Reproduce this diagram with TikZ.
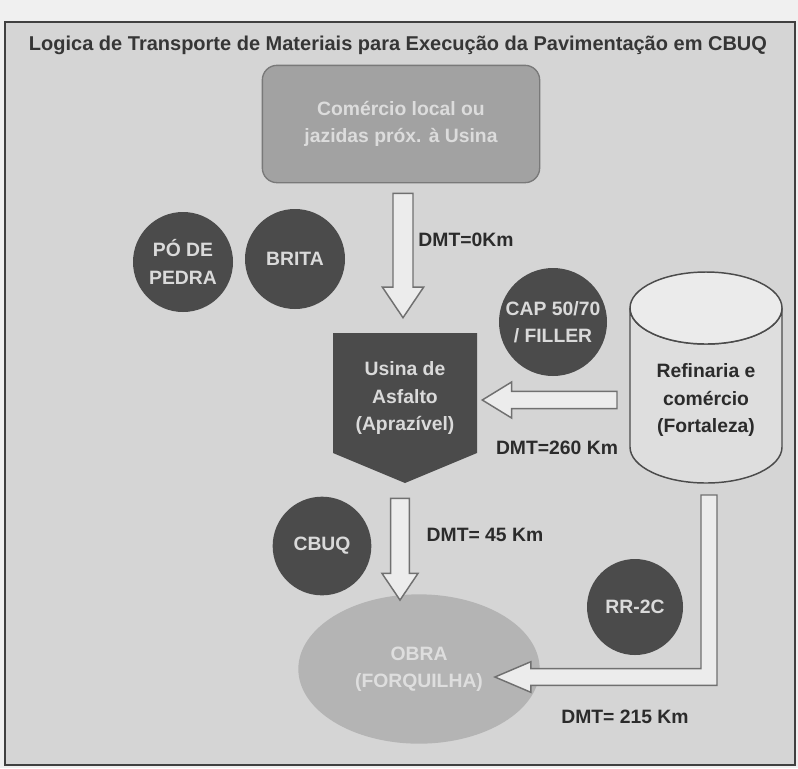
\documentclass[tikz,border=0pt]{standalone}
\usepackage{fontspec}
\setmainfont{Liberation Sans}
\usepackage{tikz}
\usetikzlibrary{calc,shapes.geometric}

\definecolor{paper}{HTML}{F0F0F0}
\definecolor{panel}{HTML}{D5D5D5}
\definecolor{ink}{HTML}{2B2B2B}
\definecolor{darkdot}{HTML}{4B4B4B}
\definecolor{dottext}{HTML}{DADADA}
\definecolor{srcgray}{HTML}{A2A2A2}
\definecolor{obragray}{HTML}{B4B4B4}
\definecolor{tankgray}{HTML}{DEDEDE}
\definecolor{arrfill}{HTML}{ECECEC}
\definecolor{arredge}{HTML}{707070}

\tikzset{
  txt/.style={font=\fontsize{14.5}{20.5}\selectfont\bfseries, align=center},
  material/.style={circle, fill=darkdot, text=dottext, txt, inner sep=0pt},
  dmt/.style={font=\fontsize{14.5}{16}\selectfont\bfseries, text=ink},
  blockarr/.style={fill=arrfill, draw=arredge, line width=1.1pt, line join=miter},
}

% vertical block arrow: start, tip, shaft half width, head half width, head length
\newcommand{\downblock}[5]{%
  \draw[blockarr] let \p1=(#1), \p2=(#2) in
    (\x2-#3,\y1) -- (\x2+#3,\y1) -- (\x2+#3,\y2+#5) -- (\x2+#4,\y2+#5)
    -- (\x2,\y2) -- (\x2-#4,\y2+#5) -- (\x2-#3,\y2+#5) -- cycle;}
% leftward block arrow
\newcommand{\leftblock}[5]{%
  \draw[blockarr] let \p1=(#1), \p2=(#2) in
    (\x1,\y2+#3) -- (\x1,\y2-#3) -- (\x2+#5,\y2-#3) -- (\x2+#5,\y2-#4)
    -- (\x2,\y2) -- (\x2+#5,\y2+#4) -- (\x2+#5,\y2+#3) -- cycle;}

\begin{document}
\begin{tikzpicture}[x=0.75pt, y=-0.75pt]
\useasboundingbox (0,0) rectangle (798,768);
\fill[paper] (0,0) rectangle (798,768);
\draw[fill=panel, draw=ink!90, line width=2pt] (5,22) rectangle (795,765);

\node[font=\fontsize{15}{18}\selectfont\bfseries, text=ink!95] (title) at (398,45)
  {Logica de Transporte de Materiais para Execução da Pavimentação em CBUQ};

% fontes de material
\node[txt, draw=srcgray!75!black, line width=1pt, fill=srcgray, text=dottext!95!white,
      rounded corners=11pt, minimum width=208pt, minimum height=88pt] (src) at (401,124)
  {Comércio local ou\\jazidas próx. à Usina};
\node[material, minimum size=75pt] (po) at (183,262) {PÓ DE\\PEDRA};
\node[material, minimum size=75pt] (brita) at (295,259) {BRITA};
\node[material, minimum size=81pt] (cap) at (553,322) {CAP 50/70\\/ FILLER};

% refinaria (cilindro)
\coordinate (tanktop) at (706,308);
\coordinate (tankbot) at (706,447);
\draw[fill=tankgray, draw=ink!85, line width=1.1pt]
  ($(tanktop)+(-76,0)$) -- ($(tankbot)+(-76,0)$)
  arc[start angle=180, end angle=0, x radius=76, y radius=36]
  -- ($(tanktop)+(76,0)$)
  arc[start angle=0, end angle=180, x radius=76, y radius=36] -- cycle;
\draw[fill=tankgray!60!white, draw=ink!85, line width=1.1pt]
  (tanktop) ellipse[x radius=76, y radius=36];
\node[txt, text=ink] (tank) at (706,400) {Refinaria e\\comércio\\(Fortaleza)};

% usina
\fill[darkdot] (333,333) -- (477,333) -- (477,453) -- (405,483) -- (333,453) -- cycle;
\node[txt, text=dottext, minimum width=108pt, minimum height=90pt] (usina) at (405,393) {};
\node[txt, text=dottext] (usinatxt) at (405,398) {Usina de\\Asfalto\\(Aprazível)};

% obra
\node[ellipse, fill=obragray, text=dottext!90!white, txt,
      minimum width=181pt, minimum height=112pt] (obra) at (419,669) {OBRA\\(FORQUILHA)};
\node[material, minimum size=74pt] (cbuq) at (322,546) {CBUQ};
\node[material, minimum size=72pt] (rr) at (635,607) {RR-2C};

% transporte
\coordinate (a1s) at ($(src.south)+(2,10)$);
\coordinate (a1t) at ($(usina.north)+(-2,-15)$);
\downblock{a1s}{a1t}{7.5pt}{15.5pt}{23pt}
\node[dmt] (dmt0) at (466,240) {DMT=0Km};

\coordinate (a2s) at ($(tankbot)+(-89,-48)$);
\coordinate (a2t) at ($(usina.east)+(5,7)$);
\leftblock{a2s}{a2t}{6.5pt}{13.5pt}{22pt}
\node[dmt] (dmt260) at (557,448) {DMT=260 Km};

\coordinate (a3s) at ($(usina.south)+(-5,45)$);
\coordinate (a3t) at ($(obra.north)+(-19,6)$);
\downblock{a3s}{a3t}{7pt}{13.5pt}{20pt}
\node[dmt] (dmt45) at (485,535) {DMT= 45 Km};

\coordinate (a4s) at ($(tankbot)+(3,48)$);
\coordinate (a4t) at ($(obra.east)+(-45,8)$);
\draw[blockarr] let \p1=(a4s), \p2=(a4t) in
  (\x1-6pt,\y1) -- (\x1+6pt,\y1) -- (\x1+6pt,\y2-6.3pt) -- (\x2+27pt,\y2-6.3pt)
  -- (\x2+27pt,\y2-11.5pt) -- (\x2,\y2) -- (\x2+27pt,\y2+11.5pt)
  -- (\x2+27pt,\y2+6.3pt) -- (\x1-6pt,\y2+6.3pt) -- cycle;
\node[dmt] (dmt215) at (625,717) {DMT= 215 Km};
\end{tikzpicture}
\end{document}
